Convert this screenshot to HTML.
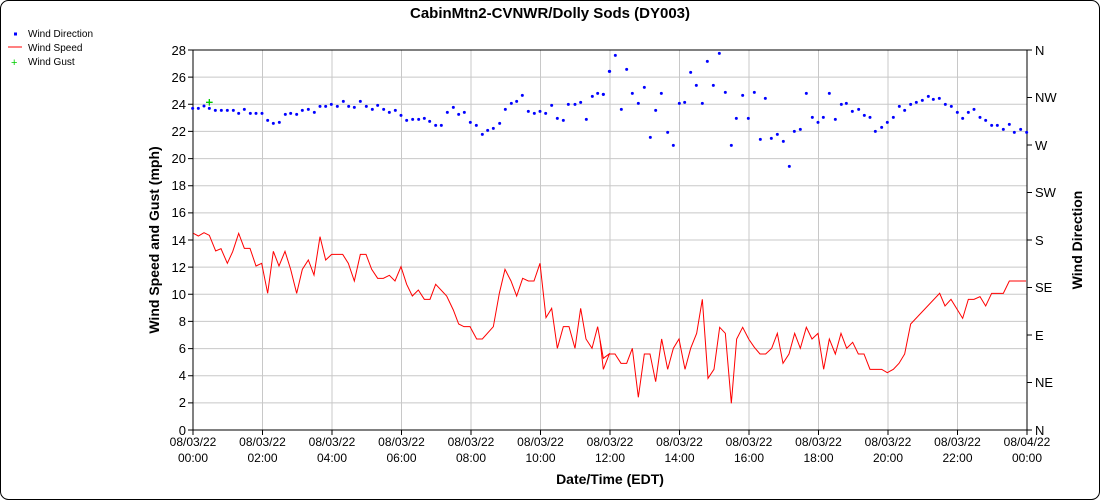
<!DOCTYPE html>
<html><head><meta charset="utf-8"><style>body{margin:0;background:#fff}svg{display:block;font-family:"Liberation Sans",sans-serif}</style></head><body>
<svg width="1100" height="500" viewBox="0 0 1100 500" xmlns="http://www.w3.org/2000/svg">
<rect x="0.5" y="0.5" width="1099" height="499" rx="8" fill="#fff" stroke="#000"/>
<text x="550" y="18" text-anchor="middle" font-weight="bold" font-size="15">CabinMtn2-CVNWR/Dolly Sods (DY003)</text>
<g font-size="10">
<rect x="14" y="32.5" width="3" height="3" fill="#00f"/><text x="28" y="37">Wind Direction</text>
<line x1="8" y1="47" x2="22" y2="47" stroke="#f00"/><text x="28" y="51">Wind Speed</text>
<text x="11" y="66" fill="#0c0" font-size="11">+</text><text x="28" y="65">Wind Gust</text>
</g>
<g stroke="#c8c8c8" stroke-width="1">
<line x1="193" y1="77.1" x2="1027" y2="77.1"/><line x1="193" y1="104.3" x2="1027" y2="104.3"/><line x1="193" y1="131.4" x2="1027" y2="131.4"/><line x1="193" y1="158.6" x2="1027" y2="158.6"/><line x1="193" y1="185.7" x2="1027" y2="185.7"/><line x1="193" y1="212.9" x2="1027" y2="212.9"/><line x1="193" y1="240" x2="1027" y2="240"/><line x1="193" y1="267.1" x2="1027" y2="267.1"/><line x1="193" y1="294.3" x2="1027" y2="294.3"/><line x1="193" y1="321.4" x2="1027" y2="321.4"/><line x1="193" y1="348.6" x2="1027" y2="348.6"/><line x1="193" y1="375.7" x2="1027" y2="375.7"/><line x1="193" y1="402.9" x2="1027" y2="402.9"/>
<line x1="262.5" y1="50" x2="262.5" y2="430"/><line x1="332" y1="50" x2="332" y2="430"/><line x1="401.5" y1="50" x2="401.5" y2="430"/><line x1="471" y1="50" x2="471" y2="430"/><line x1="540.5" y1="50" x2="540.5" y2="430"/><line x1="610" y1="50" x2="610" y2="430"/><line x1="679.5" y1="50" x2="679.5" y2="430"/><line x1="749" y1="50" x2="749" y2="430"/><line x1="818.5" y1="50" x2="818.5" y2="430"/><line x1="888" y1="50" x2="888" y2="430"/><line x1="957.5" y1="50" x2="957.5" y2="430"/>
</g>
<g stroke="#000" stroke-width="1" fill="none">
<path d="M193 50H1027V430H193Z"/>
<path d="M188 50h5M188 77.1h5M188 104.3h5M188 131.4h5M188 158.6h5M188 185.7h5M188 212.9h5M188 240h5M188 267.1h5M188 294.3h5M188 321.4h5M188 348.6h5M188 375.7h5M188 402.9h5M188 430h5"/>
<path d="M1027 50h5M1027 97.5h5M1027 145h5M1027 192.5h5M1027 240h5M1027 287.5h5M1027 335h5M1027 382.5h5M1027 430h5"/>
<path d="M193 430v5M262.5 430v5M332 430v5M401.5 430v5M471 430v5M540.5 430v5M610 430v5M679.5 430v5M749 430v5M818.5 430v5M888 430v5M957.5 430v5M1027 430v5"/>
</g>
<g font-size="13" text-anchor="end">
<text x="186" y="55">28</text><text x="186" y="82">26</text><text x="186" y="109">24</text><text x="186" y="136">22</text><text x="186" y="163">20</text><text x="186" y="190">18</text><text x="186" y="217">16</text><text x="186" y="245">14</text><text x="186" y="272">12</text><text x="186" y="299">10</text><text x="186" y="326">8</text><text x="186" y="353">6</text><text x="186" y="380">4</text><text x="186" y="407">2</text><text x="186" y="435">0</text>
</g>
<g font-size="13">
<text x="1035" y="55">N</text><text x="1035" y="102">NW</text><text x="1035" y="150">W</text><text x="1035" y="197">SW</text><text x="1035" y="245">S</text><text x="1035" y="292">SE</text><text x="1035" y="340">E</text><text x="1035" y="387">NE</text><text x="1035" y="435">N</text>
</g>
<g font-size="12" text-anchor="middle">
<text x="193" y="446">08/03/22</text><text x="193" y="462">00:00</text>
<text x="262.5" y="446">08/03/22</text><text x="262.5" y="462">02:00</text>
<text x="332" y="446">08/03/22</text><text x="332" y="462">04:00</text>
<text x="401.5" y="446">08/03/22</text><text x="401.5" y="462">06:00</text>
<text x="471" y="446">08/03/22</text><text x="471" y="462">08:00</text>
<text x="540.5" y="446">08/03/22</text><text x="540.5" y="462">10:00</text>
<text x="610" y="446">08/03/22</text><text x="610" y="462">12:00</text>
<text x="679.5" y="446">08/03/22</text><text x="679.5" y="462">14:00</text>
<text x="749" y="446">08/03/22</text><text x="749" y="462">16:00</text>
<text x="818.5" y="446">08/03/22</text><text x="818.5" y="462">18:00</text>
<text x="888" y="446">08/03/22</text><text x="888" y="462">20:00</text>
<text x="957.5" y="446">08/03/22</text><text x="957.5" y="462">22:00</text>
<text x="1027" y="446">08/04/22</text><text x="1027" y="462">00:00</text>
</g>
<text x="610" y="484" text-anchor="middle" font-weight="bold" font-size="14">Date/Time (EDT)</text>
<text transform="translate(159,240) rotate(-90)" text-anchor="middle" font-weight="bold" font-size="14">Wind Speed and Gust (mph)</text>
<text transform="translate(1082,240) rotate(-90)" text-anchor="middle" font-weight="bold" font-size="14">Wind Direction</text>
<g transform="translate(190,40) scale(0.33333)">
<polyline fill="none" stroke="#f00" stroke-width="3" points="10,580 25,588 42,578 58,586 77,633 93,626 112,670 128,635 146,580 163,625 180,625 198,678 215,670 233,760 250,634 267,678 285,634 302,688 320,760 337,688 355,660 372,705 390,590 407,660 425,643 458,643 475,670 493,723 511,643 528,643 545,688 563,715 580,715 598,706 615,723 633,680 650,733 667,768 685,750 703,778 720,778 737,733 770,768 790,810 806,852 822,860 840,860 860,897 877,897 910,860 928,760 945,688 963,723 980,768 998,715 1015,723 1032,723 1050,670 1068,833 1085,805 1102,925 1120,860 1137,860 1155,925 1172,805 1188,897 1206,925 1223,860 1240,955 1260,940"/>
<g fill="#00f">
<circle cx="8" cy="205" r="4.5"/><circle cx="25" cy="205" r="4.5"/><circle cx="42" cy="198" r="4.5"/><circle cx="58" cy="205" r="4.5"/><circle cx="76" cy="211" r="4.5"/><circle cx="94" cy="211" r="4.5"/><circle cx="112" cy="211" r="4.5"/><circle cx="130" cy="211" r="4.5"/><circle cx="146" cy="220" r="4.5"/><circle cx="163" cy="208" r="4.5"/><circle cx="181" cy="220" r="4.5"/><circle cx="198" cy="220" r="4.5"/><circle cx="216" cy="220" r="4.5"/><circle cx="233" cy="241" r="4.5"/><circle cx="250" cy="250" r="4.5"/><circle cx="268" cy="247" r="4.5"/><circle cx="286" cy="223" r="4.5"/><circle cx="302" cy="220" r="4.5"/><circle cx="320" cy="223" r="4.5"/><circle cx="337" cy="211" r="4.5"/><circle cx="355" cy="208" r="4.5"/><circle cx="373" cy="217" r="4.5"/><circle cx="390" cy="199" r="4.5"/><circle cx="407" cy="199" r="4.5"/><circle cx="424" cy="193" r="4.5"/><circle cx="442" cy="199" r="4.5"/><circle cx="460" cy="184" r="4.5"/><circle cx="476" cy="199" r="4.5"/><circle cx="493" cy="202" r="4.5"/><circle cx="511" cy="184" r="4.5"/><circle cx="529" cy="199" r="4.5"/><circle cx="547" cy="208" r="4.5"/><circle cx="563" cy="196" r="4.5"/><circle cx="581" cy="208" r="4.5"/><circle cx="598" cy="217" r="4.5"/><circle cx="616" cy="211" r="4.5"/><circle cx="633" cy="226" r="4.5"/><circle cx="650" cy="241" r="4.5"/><circle cx="668" cy="238" r="4.5"/><circle cx="686" cy="238" r="4.5"/><circle cx="703" cy="235" r="4.5"/><circle cx="719" cy="244" r="4.5"/><circle cx="737" cy="256" r="4.5"/><circle cx="754" cy="256" r="4.5"/><circle cx="772" cy="217" r="4.5"/><circle cx="790" cy="202" r="4.5"/><circle cx="806" cy="223" r="4.5"/><circle cx="823" cy="217" r="4.5"/><circle cx="841" cy="247" r="4.5"/><circle cx="859" cy="256" r="4.5"/><circle cx="877" cy="283" r="4.5"/><circle cx="893" cy="271" r="4.5"/><circle cx="910" cy="265" r="4.5"/><circle cx="929" cy="250" r="4.5"/><circle cx="946" cy="208" r="4.5"/><circle cx="964" cy="190" r="4.5"/><circle cx="980" cy="184" r="4.5"/><circle cx="997" cy="166" r="4.5"/><circle cx="1015" cy="214" r="4.5"/><circle cx="1033" cy="220" r="4.5"/><circle cx="1050" cy="214" r="4.5"/><circle cx="1067" cy="220" r="4.5"/><circle cx="1085" cy="196" r="4.5"/><circle cx="1102" cy="235" r="4.5"/><circle cx="1120" cy="241" r="4.5"/><circle cx="1135" cy="193" r="4.5"/><circle cx="1155" cy="193" r="4.5"/><circle cx="1172" cy="187" r="4.5"/><circle cx="1189" cy="238" r="4.5"/><circle cx="1207" cy="169" r="4.5"/><circle cx="1223" cy="160" r="4.5"/><circle cx="1240" cy="163" r="4.5"/><circle cx="1259" cy="94" r="4.5"/>
</g>
<path d="M58 177v20M48 187h20" stroke="#0c0" stroke-width="4"/>
</g>
<g transform="translate(600,40) scale(0.33333)">
<polyline fill="none" stroke="#f00" stroke-width="3" points="0,900 10,988 28,942 45,942 63,970 80,970 97,925 115,1072 133,942 150,942 167,1025 185,897 203,988 220,925 237,897 255,988 272,925 290,880 307,778 324,1015 342,988 359,862 376,880 394,1090 410,897 428,862 446,897 463,922 480,942 497,942 515,925 532,880 549,970 567,942 584,880 601,925 619,862 636,897 654,880 671,988 688,897 706,942 723,880 740,925 758,907 775,942 792,942 810,988 845,988 862,998 880,988 897,970 914,942 932,852 1019,760 1035,798 1053,778 1088,835 1105,778 1122,778 1140,770 1157,798 1175,760 1210,760 1228,723 1278,723"/>
<g fill="#00f">
<circle cx="10" cy="163" r="4.5"/><circle cx="28" cy="94" r="4.5"/><circle cx="46" cy="46" r="4.5"/><circle cx="64" cy="208" r="4.5"/><circle cx="80" cy="88" r="4.5"/><circle cx="97" cy="160" r="4.5"/><circle cx="115" cy="190" r="4.5"/><circle cx="133" cy="142" r="4.5"/><circle cx="151" cy="292" r="4.5"/><circle cx="167" cy="211" r="4.5"/><circle cx="184" cy="160" r="4.5"/><circle cx="203" cy="277" r="4.5"/><circle cx="220" cy="316" r="4.5"/><circle cx="238" cy="190" r="4.5"/><circle cx="254" cy="187" r="4.5"/><circle cx="272" cy="97" r="4.5"/><circle cx="289" cy="136" r="4.5"/><circle cx="307" cy="190" r="4.5"/><circle cx="322" cy="64" r="4.5"/><circle cx="340" cy="136" r="4.5"/><circle cx="358" cy="40" r="4.5"/><circle cx="376" cy="157" r="4.5"/><circle cx="394" cy="316" r="4.5"/><circle cx="409" cy="235" r="4.5"/><circle cx="428" cy="166" r="4.5"/><circle cx="445" cy="235" r="4.5"/><circle cx="463" cy="157" r="4.5"/><circle cx="481" cy="298" r="4.5"/><circle cx="496" cy="175" r="4.5"/><circle cx="514" cy="295" r="4.5"/><circle cx="532" cy="283" r="4.5"/><circle cx="550" cy="304" r="4.5"/><circle cx="568" cy="379" r="4.5"/><circle cx="583" cy="274" r="4.5"/><circle cx="601" cy="268" r="4.5"/><circle cx="619" cy="160" r="4.5"/><circle cx="637" cy="232" r="4.5"/><circle cx="654" cy="247" r="4.5"/><circle cx="670" cy="232" r="4.5"/><circle cx="688" cy="160" r="4.5"/><circle cx="706" cy="238" r="4.5"/><circle cx="724" cy="193" r="4.5"/><circle cx="739" cy="190" r="4.5"/><circle cx="757" cy="214" r="4.5"/><circle cx="776" cy="208" r="4.5"/><circle cx="793" cy="226" r="4.5"/><circle cx="810" cy="232" r="4.5"/><circle cx="826" cy="274" r="4.5"/><circle cx="845" cy="262" r="4.5"/><circle cx="862" cy="247" r="4.5"/><circle cx="880" cy="232" r="4.5"/><circle cx="898" cy="199" r="4.5"/><circle cx="914" cy="211" r="4.5"/><circle cx="932" cy="193" r="4.5"/><circle cx="949" cy="187" r="4.5"/><circle cx="967" cy="181" r="4.5"/><circle cx="985" cy="169" r="4.5"/><circle cx="1000" cy="178" r="4.5"/><circle cx="1018" cy="175" r="4.5"/><circle cx="1036" cy="193" r="4.5"/><circle cx="1054" cy="199" r="4.5"/><circle cx="1072" cy="217" r="4.5"/><circle cx="1088" cy="235" r="4.5"/><circle cx="1105" cy="217" r="4.5"/><circle cx="1122" cy="208" r="4.5"/><circle cx="1140" cy="232" r="4.5"/><circle cx="1157" cy="241" r="4.5"/><circle cx="1175" cy="256" r="4.5"/><circle cx="1192" cy="256" r="4.5"/><circle cx="1210" cy="268" r="4.5"/><circle cx="1228" cy="253" r="4.5"/><circle cx="1243" cy="277" r="4.5"/><circle cx="1262" cy="268" r="4.5"/><circle cx="1280" cy="277" r="4.5"/>
</g>
</g>
</svg>
</body></html>
